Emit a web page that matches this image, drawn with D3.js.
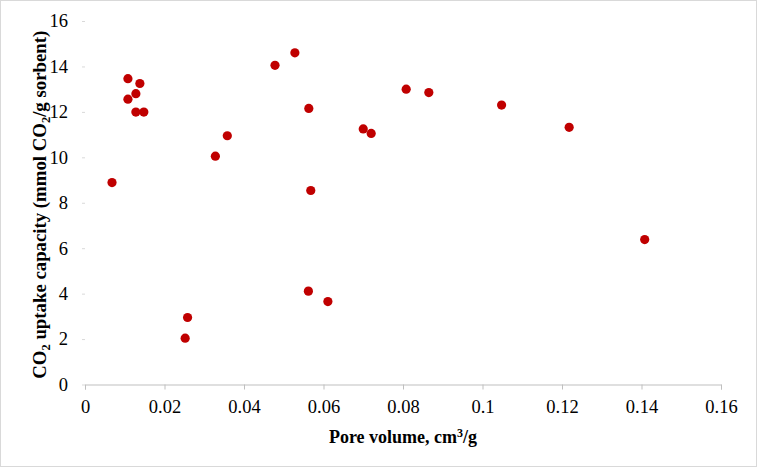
<!DOCTYPE html>
<html><head><meta charset="utf-8">
<script src="https://cdn.jsdelivr.net/npm/d3@7"></script>
<style>
html,body{margin:0;padding:0;background:#fff;}
svg{display:block;}
svg text{font-family:"Liberation Serif","Times New Roman",Tinos,serif;}
</style></head>
<body>
<svg id="chart" width="757" height="467"></svg>
<script>
const poreVolume = [0.0108,0.0138,0.0128,0.0108,0.0128,0.0148,0.0068,
  0.0252,0.0258,0.0328,0.0358,0.0478,0.0528,0.0563,0.0568,0.0562,0.0611,
  0.0700,0.0720,0.0808,0.0865,0.1048,0.1218,0.1408];
const uptake = [13.46,13.25,12.80,12.56,11.99,11.99,8.89,
  2.04,2.95,10.05,10.95,14.05,14.60,12.15,8.54,4.11,3.65,
  11.25,11.05,13.00,12.85,12.30,11.32,6.38];
const xTicks = [0,0.02,0.04,0.06,0.08,0.1,0.12,0.14,0.16];
const yTicks = [0,2,4,6,8,10,12,14,16];

const svg = d3.select("#chart");
const W = 757, H = 467;
const mLeft = 85, mRight = 721, mTop = 21, mBottom = 384.5;

svg.append("rect").attr("x",0.5).attr("y",0.5).attr("width",W-1).attr("height",H-1)
  .attr("fill","#fff").attr("stroke","#d9d9d9").attr("stroke-width",1);

const x = d3.scaleLinear().domain([0,0.16]).range([mLeft,mRight]);
const y = d3.scaleLinear().domain([0,16]).range([mBottom,mTop]);

const font = '"Liberation Serif","Times New Roman",Tinos,serif';

// X axis
const xAxis = svg.append("g").attr("transform",`translate(0,${mBottom})`)
  .call(d3.axisBottom(x).tickValues(xTicks).tickSize(5).tickPadding(10)
    .tickFormat(d => String(+d.toFixed(2))));
xAxis.attr("font-family",null);
xAxis.select(".domain").attr("stroke","#bfbfbf").attr("stroke-width",1);
xAxis.selectAll(".tick line").attr("stroke","#bfbfbf");
xAxis.selectAll("text").style("font-family",font).attr("font-size",18.5).attr("fill","#000");

// Y axis
const yAxis = svg.append("g").attr("transform",`translate(${mLeft},0)`)
  .call(d3.axisLeft(y).tickValues(yTicks).tickSize(3).tickPadding(14));
yAxis.attr("font-family",null);
yAxis.select(".domain").remove();
yAxis.selectAll(".tick line").attr("stroke","#d9d9d9");
yAxis.selectAll("text").style("font-family",font).attr("font-size",18.5).attr("fill","#000");

// Points
svg.append("g").selectAll("circle").data(poreVolume.map((v,i)=>({x:v,y:uptake[i]})))
  .join("circle")
  .attr("cx",d=>x(d.x)).attr("cy",d=>y(d.y)).attr("r",4.6)
  .attr("fill","#c00000");

// X title
const xt = svg.append("text").attr("x",(mLeft+mRight)/2).attr("y",443)
  .attr("text-anchor","middle").style("font-family",font).attr("font-size",18)
  .attr("font-weight","bold").attr("fill","#000");
xt.append("tspan").text("Pore volume, cm");
xt.append("tspan").attr("font-size",12).attr("dy",-6).text("3");
xt.append("tspan").attr("dy",6).text("/g");

// Y title
const yt = svg.append("text").attr("transform",`translate(46,${(mTop+mBottom)/2+2}) rotate(-90)`)
  .attr("text-anchor","middle").style("font-family",font).attr("font-size",18.8)
  .attr("font-weight","bold").attr("fill","#000");
yt.append("tspan").text("CO");
yt.append("tspan").attr("font-size",12.5).attr("dy",4).text("2");
yt.append("tspan").attr("dy",-4).text(" uptake capacity (mmol CO");
yt.append("tspan").attr("font-size",12.5).attr("dy",4).text("2");
yt.append("tspan").attr("dy",-4).text("/g sorbent)");
</script>
</body></html>
